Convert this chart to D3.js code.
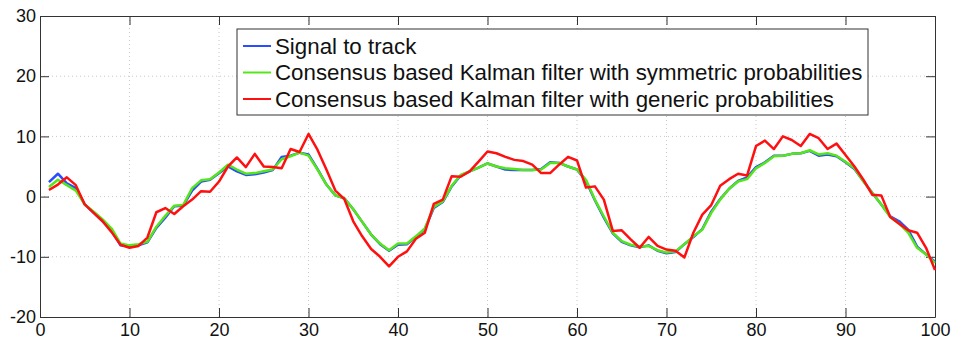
<!DOCTYPE html>
<html>
<head>
<meta charset="utf-8">
<script src="https://cdn.jsdelivr.net/npm/d3@7"></script>
<style>
  body { margin: 0; background: #fff; }
  svg { display: block; font-family: "Liberation Sans", Arial, sans-serif; }
</style>
</head>
<body>
<svg id="chart"></svg>
<script>
// data, index k = 1..100
var signal = [2.4, 3.8, 2.2, 1.4, -1.3, -2.7, -4.1, -5.7, -8.1, -8.3,
    -8.1, -7.6, -5.2, -3.5, -1.6, -1.5, 1.0, 2.5, 2.8, 3.9,
    5.0, 4.2, 3.6, 3.7, 4.0, 4.4, 6.6, 6.8, 7.3, 7.0,
    4.6, 2.0, 0.2, -0.3, -2.1, -4.2, -6.3, -7.9, -9.0, -8.0,
    -7.9, -6.7, -5.4, -1.9, -0.9, 1.7, 3.5, 4.2, 4.8, 5.5,
    5.0, 4.5, 4.4, 4.4, 4.4, 4.6, 5.7, 5.6, 5.0, 4.5,
    2.6, -0.6, -3.5, -6.1, -7.5, -8.1, -8.4, -8.1, -9.0, -9.4,
    -9.2, -7.9, -6.7, -5.4, -2.5, -0.4, 1.3, 2.6, 3.2, 4.9,
    5.7, 6.8, 6.8, 7.1, 7.2, 7.6, 6.8, 7.0, 6.7, 5.7,
    4.6, 2.6, 0.6, -1.3, -3.3, -4.1, -5.5, -8.3, -9.6, -10.8];

var symmetric = [1.6, 2.8, 1.9, 1.0, -1.3, -2.5, -3.8, -5.3, -7.8, -8.1,
    -7.9, -7.5, -5.0, -3.2, -1.5, -1.4, 1.4, 2.7, 2.9, 4.0,
    5.3, 4.5, 3.8, 3.9, 4.2, 4.5, 6.2, 6.7, 7.3, 6.8,
    4.5, 2.0, 0.2, -0.3, -2.1, -4.2, -6.3, -7.8, -8.9, -7.8,
    -7.8, -6.6, -5.3, -1.7, -0.8, 1.8, 3.6, 4.2, 4.8, 5.5,
    5.0, 4.7, 4.6, 4.4, 4.4, 4.5, 5.6, 5.6, 5.0, 4.5,
    2.8, -0.5, -3.3, -6.0, -7.4, -8.0, -8.3, -8.2, -8.9, -9.3,
    -9.1, -7.9, -6.6, -5.5, -2.7, -0.5, 1.3, 2.5, 2.9, 4.7,
    5.6, 6.7, 6.8, 7.1, 7.2, 7.7, 7.0, 7.2, 6.8, 5.8,
    4.7, 2.5, 0.6, -1.3, -3.4, -4.5, -6.0, -8.5, -9.6, -11.0];

var generic = [1.1, 2.0, 3.2, 1.9, -1.3, -2.7, -4.1, -5.9, -8.0, -8.5,
    -8.2, -6.8, -2.6, -1.9, -2.9, -1.6, -0.5, 0.9, 0.8, 2.5,
    5.0, 6.5, 4.9, 7.1, 5.0, 4.9, 4.7, 7.9, 7.4, 10.4,
    7.8, 4.5, 1.0, -0.4, -4.1, -6.6, -8.7, -10.0, -11.6, -10.0,
    -9.1, -7.0, -6.0, -1.2, -0.5, 3.4, 3.3, 4.2, 5.8, 7.5,
    7.2, 6.6, 6.1, 5.9, 5.3, 3.9, 3.9, 5.3, 6.6, 6.0,
    1.5, 1.7, -0.5, -5.7, -5.6, -7.1, -8.5, -6.7, -8.2, -8.8,
    -9.0, -10.1, -6.0, -3.0, -1.4, 1.8, 2.9, 3.8, 3.5, 8.4,
    9.3, 7.9, 10.0, 9.4, 8.4, 10.4, 9.7, 7.9, 8.8, 6.9,
    5.0, 2.8, 0.3, 0.2, -3.4, -4.5, -5.6, -6.0, -8.5, -12.2];

var seriesNames = [
    "Signal to track",
    "Consensus based Kalman filter with symmetric probabilities",
    "Consensus based Kalman filter with generic probabilities"
];
var seriesColors = ["#2b4cff", "#55e61a", "#ff1010"];
var xTicks = [0, 10, 20, 30, 40, 50, 60, 70, 80, 90, 100];
var yTicks = [-20, -10, 0, 10, 20, 30];

var w = 953;
var h = 339;
var margin = { top: 16, right: 18, bottom: 22, left: 40 };

var svg = d3.select("#chart").attr("width", w).attr("height", h);
var width = w - margin.left - margin.right;
var height = h - margin.top - margin.bottom;
var g = svg.append("g")
    .attr("transform", "translate(" + margin.left + "," + margin.top + ")");

var x = d3.scaleLinear().domain([0, 100]).range([0, width]);
var y = d3.scaleLinear().domain([-20, 30]).range([height, 0]);

// dotted grid
g.append("g").selectAll("line")
    .data(xTicks.slice(1, -1))
    .enter().append("line")
    .attr("x1", function(d) { return x(d); })
    .attr("x2", function(d) { return x(d); })
    .attr("y1", 0).attr("y2", height)
    .attr("stroke", "#c8c8c8").attr("stroke-dasharray", "1,3");
g.append("g").selectAll("line")
    .data(yTicks.slice(1, -1))
    .enter().append("line")
    .attr("y1", function(d) { return y(d); })
    .attr("y2", function(d) { return y(d); })
    .attr("x1", 0).attr("x2", width)
    .attr("stroke", "#c8c8c8").attr("stroke-dasharray", "1,3");

// axes, ticks pointing inwards on all four sides
var tickLen = 9;
var axisColor = "#333";
var plain = function(d) { return String(d); };
var axisB = g.append("g").attr("transform", "translate(0," + height + ")")
    .call(d3.axisBottom(x).tickValues(xTicks).tickFormat(plain)
        .tickSizeInner(-tickLen).tickSizeOuter(0).tickPadding(6));
var axisL = g.append("g")
    .call(d3.axisLeft(y).tickValues(yTicks).tickFormat(plain)
        .tickSizeInner(-tickLen).tickSizeOuter(0).tickPadding(4));
var axisT = g.append("g")
    .call(d3.axisTop(x).tickValues(xTicks).tickSizeInner(-tickLen).tickSizeOuter(0).tickFormat(""));
var axisR = g.append("g").attr("transform", "translate(" + width + ",0)")
    .call(d3.axisRight(y).tickValues(yTicks).tickSizeInner(-tickLen).tickSizeOuter(0).tickFormat(""));

[axisB, axisL, axisT, axisR].forEach(function(a) {
    a.selectAll(".domain").attr("stroke", axisColor);
    a.selectAll(".tick line").attr("stroke", axisColor);
    a.selectAll("text")
        .attr("fill", "#111")
        .style("font-size", "18px")
        .style("font-family", "'Liberation Sans', Arial, sans-serif");
});

// lines
var line = d3.line()
    .x(function(d, i) { return x(i + 1); })
    .y(function(d) { return y(d); });

[signal, symmetric, generic].forEach(function(s, i) {
    g.append("path")
        .datum(s)
        .attr("fill", "none")
        .attr("stroke", seriesColors[i])
        .attr("stroke-width", 2.5)
        .attr("stroke-linejoin", "round")
        .attr("d", line);
});

// legend
var legend = svg.append("g").attr("transform", "translate(237,29)");
legend.append("rect")
    .attr("width", 631).attr("height", 86)
    .attr("fill", "#fff").attr("stroke", axisColor);
seriesNames.forEach(function(name, i) {
    var ly = 17 + i * 26.5;
    legend.append("line")
        .attr("x1", 6).attr("x2", 34)
        .attr("y1", ly).attr("y2", ly)
        .attr("stroke", seriesColors[i]).attr("stroke-width", 2);
    legend.append("text")
        .attr("x", 38).attr("y", ly)
        .attr("dy", "0.35em")
        .attr("fill", "#111")
        .style("font-size", "22.3px")
        .text(name);
});
</script>
</body>
</html>
